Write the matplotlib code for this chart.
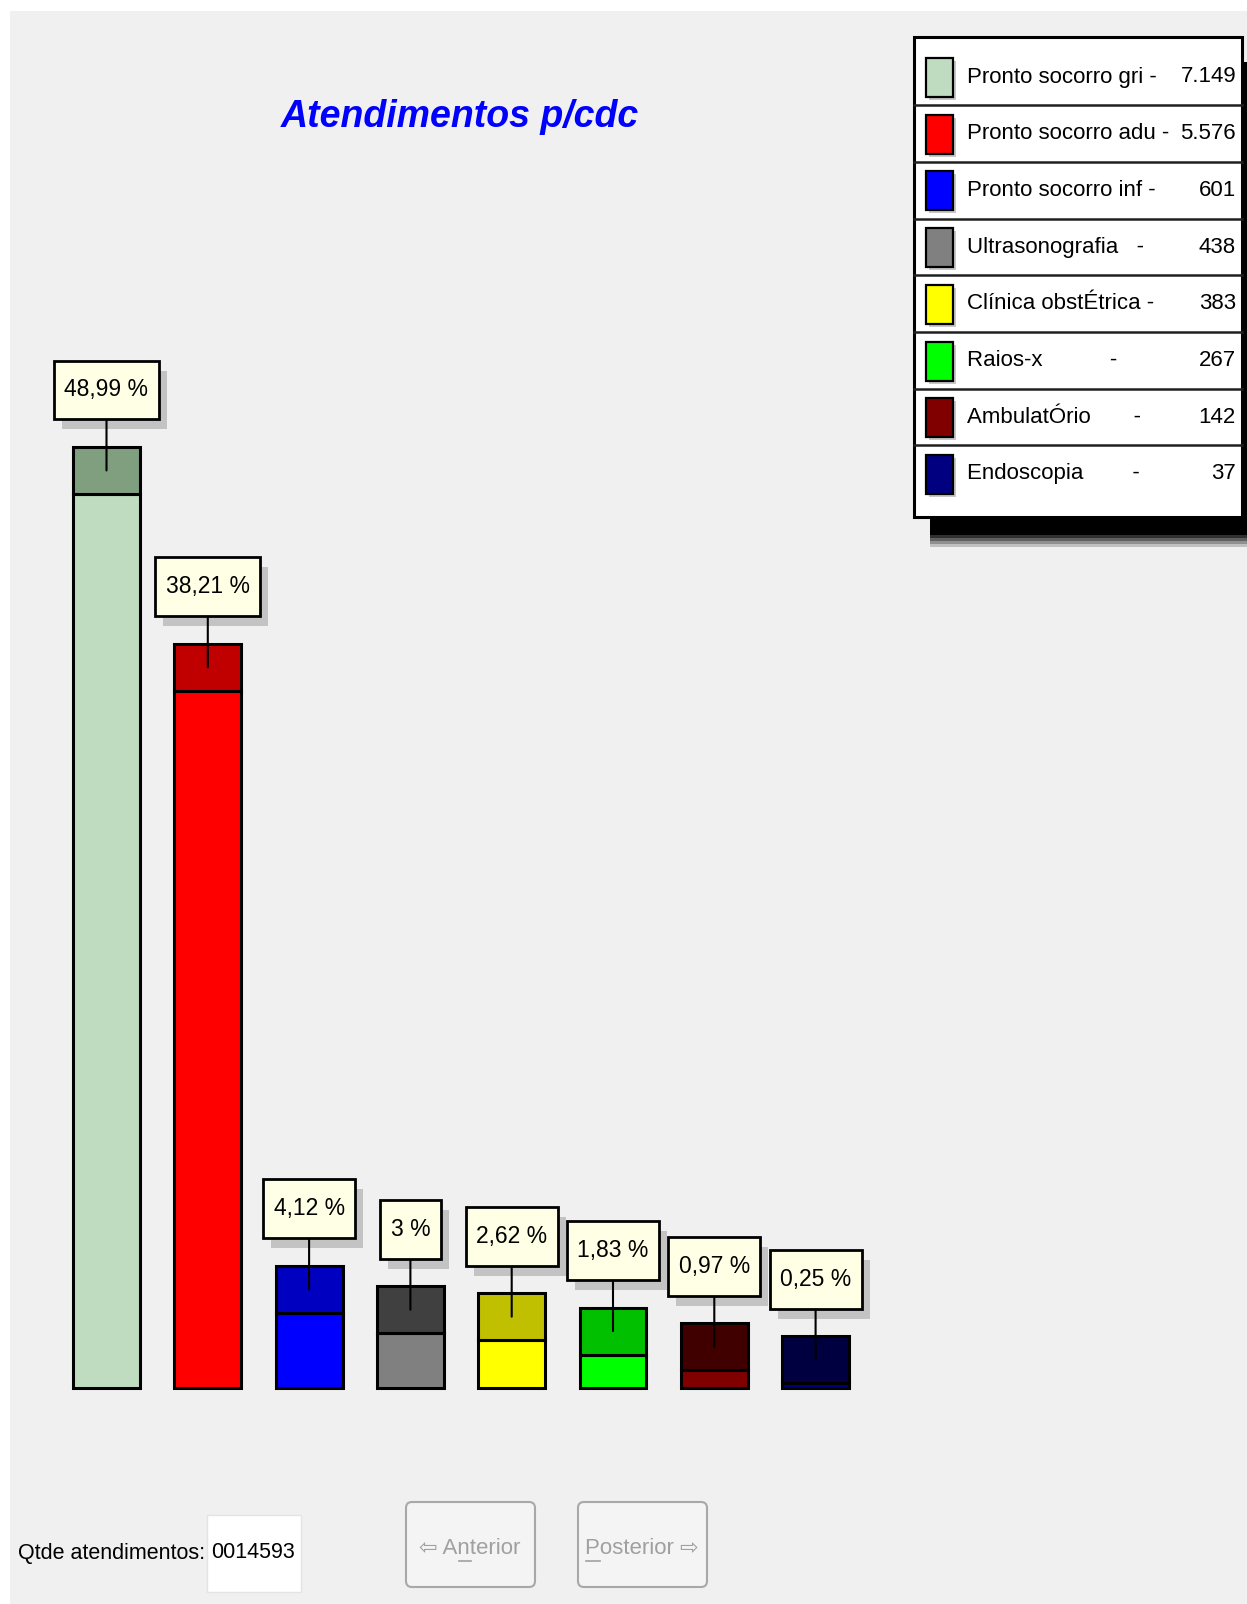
import matplotlib
matplotlib.use('Agg')
import matplotlib.pyplot as plt
from matplotlib.patches import Rectangle, FancyBboxPatch
from matplotlib.path import Path
from matplotlib.transforms import IdentityTransform

# dados
categorias = ['Pronto socorro gri -', 'Pronto socorro adu -', 'Pronto socorro inf -',
              'Ultrasonografia   -', 'Clínica obstÉtrica -', 'Raios-x           -',
              'AmbulatÓrio       -', 'Endoscopia        -']
quantidades = [7149, 5576, 601, 438, 383, 267, 142, 37]
percentuais = [48.99, 38.21, 4.12, 3.00, 2.62, 1.83, 0.97, 0.25]
cores = ['#c0dcc0', '#ff0000', '#0000ff', '#808080', '#ffff00', '#00ff00', '#800000', '#000080']
cores_topo = ['#7f9f7f', '#c00000', '#0000c0', '#404040', '#c0c000', '#00c000', '#400000', '#000040']
titulo = 'Atendimentos p/cdc'

FONT = ['Liberation Sans', 'DejaVu Sans']
W, H = 1247, 1604


def caixa(x0, y0, w, h, mutation_size):
    # caixa retangular com folga diferente na horizontal e vertical
    px, py = 0.45 * mutation_size, 0.78 * mutation_size
    a, b, c, d = x0 - px, y0 - py, x0 + w + px, y0 + h + py
    return Path([(a, b), (c, b), (c, d), (a, d), (a, b)], closed=True)


fig = plt.figure(figsize=(W / 100, H / 100), dpi=100, facecolor='white')

# camada de "interface" em pixels
ui = fig.add_axes([0, 0, 1, 1], zorder=0)
ui.set_xlim(0, W)
ui.set_ylim(H, 0)
ui.axis('off')
ui.add_patch(Rectangle((10, 11), W - 10, H - 11, fc='#f0f0f0', ec='none'))

ui.text(460, 127, titulo, ha='center', va='baseline', fontsize=27, color='#0000ff',
        fontstyle='italic', fontweight='bold', family=FONT)

# legenda
lx0, lx1, ly0, ly1 = 914, 1242, 37, 517
ui.add_patch(Rectangle((lx1, 62), 5, ly1 - 62 + 18, fc='black', ec='none'))
ui.add_patch(Rectangle((930, ly1), W - 930, 18, fc='black', ec='none'))
for k, g in enumerate(['#303030', '#606060', '#909090', '#c0c0c0']):
    ui.add_patch(Rectangle((930, ly1 + 18 + 3 * k), W - 930, 3, fc=g, ec='none'))
ui.add_patch(Rectangle((lx0, ly0), lx1 - lx0, ly1 - ly0, fc='white', ec='black', lw=2.2))
passo = 56.7
for i, (nome, qtd, cor) in enumerate(zip(categorias, quantidades, cores)):
    yc = 77 + passo * i
    if i > 0:
        ui.plot([lx0, lx1], [yc - 28.5, yc - 28.5], color='#202020', lw=1.8)
    ui.add_patch(Rectangle((929, yc - 16), 27, 39, fc='#c8c8c8', ec='none'))
    ui.add_patch(Rectangle((926, yc - 19), 27, 39, fc=cor, ec='black', lw=1.6))
    ui.text(967, yc, nome, ha='left', va='center', fontsize=16, family=FONT)
    ui.text(1236, yc, f'{qtd:,}'.replace(',', '.'), ha='right', va='center',
            fontsize=16, family=FONT)

# controles inferiores
ui.text(18, 1553, 'Qtde atendimentos:', ha='left', va='center', fontsize=15.5, family=FONT)
ui.add_patch(Rectangle((207, 1515), 94, 77, fc='white', ec='#e4e4e4', lw=1))
ui.text(211, 1553, f'{sum(quantidades):07d}', ha='left', va='center', fontsize=15.5,
        family=FONT)
for bx, txt in [(406, '⇦ Anterior'), (578, 'Posterior ⇨')]:
    ui.add_patch(FancyBboxPatch((bx, 1502), 129, 85, boxstyle='round,pad=0,rounding_size=6',
                                fc='#f4f4f4', ec='#a8a8a8', lw=1.5))
    ui.text(bx + 64, 1548, txt, ha='center', va='center', fontsize=16, color='#a0a0a0',
            family=FONT)
ui.plot([459, 471], [1561, 1561], color='#a0a0a0', lw=1.2)
ui.plot([586, 600], [1561, 1561], color='#a0a0a0', lw=1.2)

# grafico de barras
px_unid = 18.25          # pixels por ponto percentual
base_px = 216            # base das barras, a partir de baixo
c0, esp = 106.5, 101.3   # centro da primeira barra e espacamento
ax = fig.add_axes([0, 0, 1, 1], zorder=1)
ax.patch.set_alpha(0)
ax.set_xlim(-c0 / esp, (W - c0) / esp)
ax.set_ylim(-base_px / px_unid, (H - base_px) / px_unid)
ax.axis('off')

topo = 47 / px_unid
x = list(range(len(percentuais)))
ax.bar(x, percentuais, width=0.661, color=cores, edgecolor='black', linewidth=2.2, zorder=2)
ax.bar(x, [topo] * len(x), bottom=percentuais, width=0.661, color=cores_topo,
       edgecolor='black', linewidth=2.2, zorder=2)

rotulos = []
for xi, p in zip(x, percentuais):
    rot = f'{p:.2f}'.rstrip('0').rstrip('.').replace('.', ',') + ' %'
    a = ax.annotate(rot, (xi, p + topo / 2), xytext=(0, 58), textcoords='offset points',
                    ha='center', va='center', fontsize=16.5, family=FONT,
                    bbox=dict(boxstyle=caixa, fc='#ffffe6', ec='black', lw=2),
                    arrowprops=dict(arrowstyle='-', color='black', lw=1.5,
                                    shrinkA=0, shrinkB=0),
                    zorder=4)
    rotulos.append(a)

# sombra das caixas dos rotulos
fig.canvas.draw()
for a in rotulos:
    bb = a.get_bbox_patch().get_window_extent()
    ax.add_patch(Rectangle((bb.x0 + 8, bb.y0 - 10), bb.width, bb.height, fc='#b8b8b8',
                           ec='none', alpha=0.8, transform=IdentityTransform(), zorder=3))

fig.savefig('out.png', dpi=100, facecolor='white')
